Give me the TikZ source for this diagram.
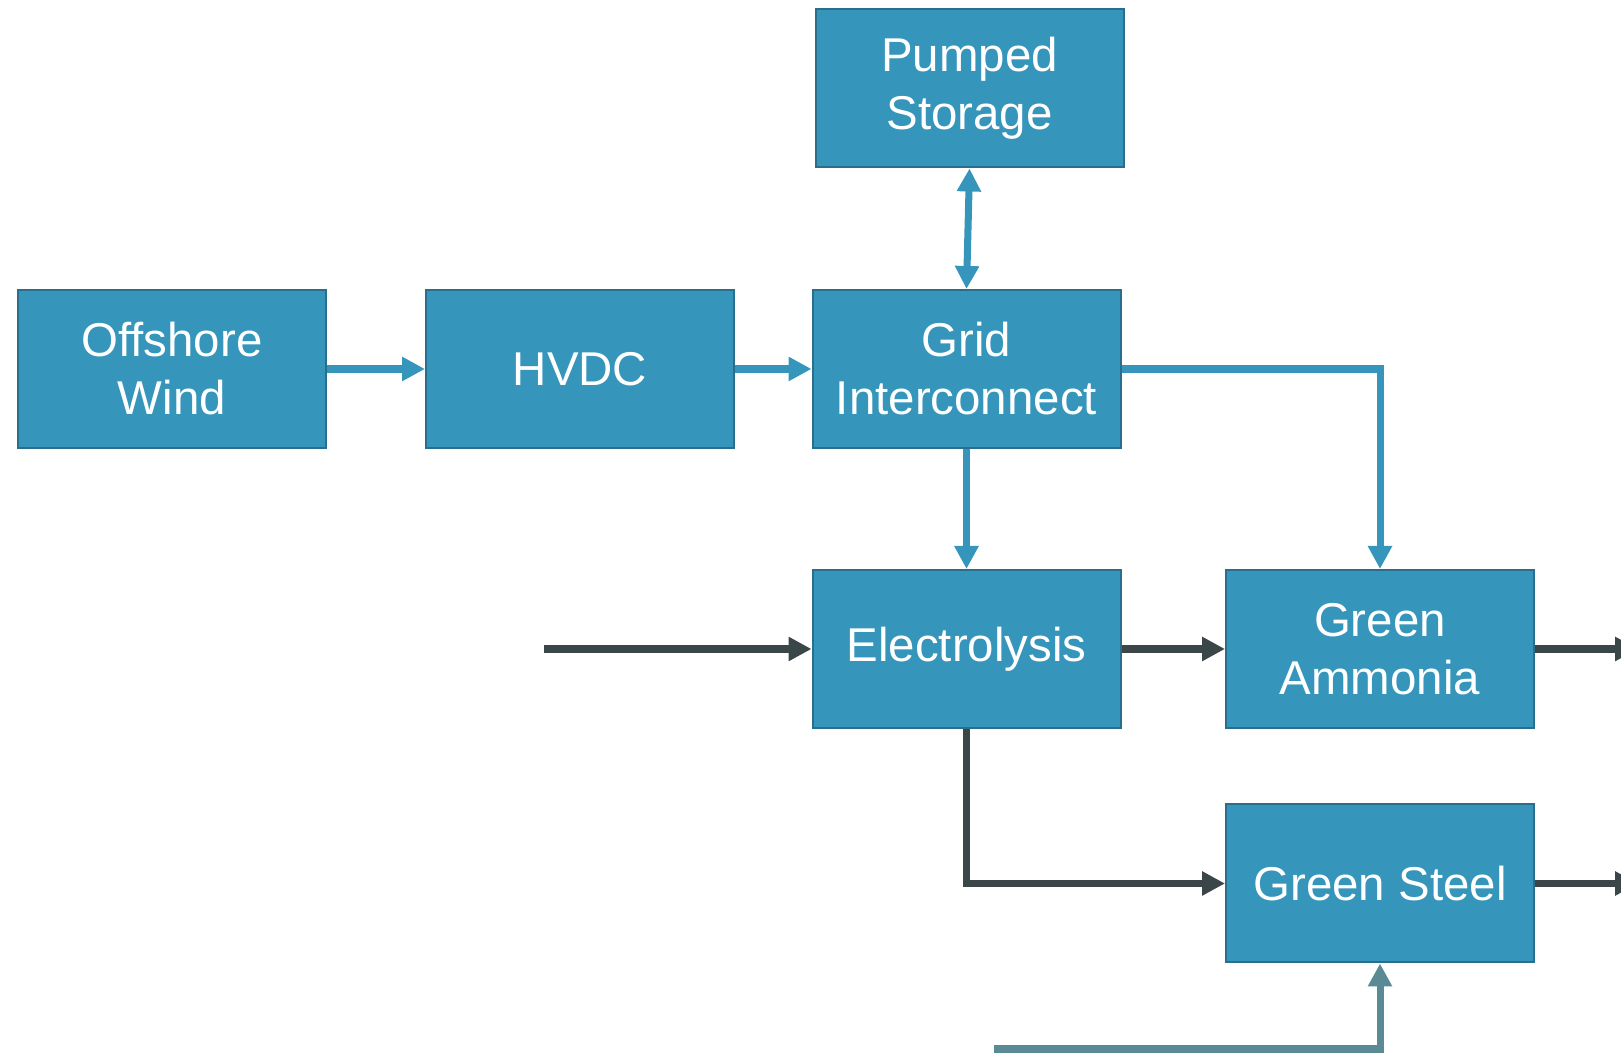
\documentclass[tikz,border=0pt]{standalone}
\usepackage{fontspec}
\setmainfont{Liberation Sans}
\usepackage{xcolor}
\usepackage{tikz}
\usetikzlibrary{arrows.meta}

\definecolor{boxfill}{HTML}{3595BB}
\definecolor{boxline}{HTML}{2A6E8E}
\definecolor{darkflow}{HTML}{3B4648}
\definecolor{tealflow}{HTML}{5A8A95}

\begin{document}
\begin{tikzpicture}[
    box/.style={draw=boxline, fill=boxfill, line width=0.04cm,
                minimum height=3.16cm, minimum width=6.16cm, align=center,
                text=white, font=\fontsize{27}{33}\selectfont},
    arrow/.style={-{Triangle[length=4.6mm, width=4.6mm]}, line width=4pt},
    twoway/.style={{Triangle[length=4.6mm, width=4.6mm]}-{Triangle[length=4.6mm, width=4.6mm]}, line width=4pt},
  ]
  \useasboundingbox (0,0) rectangle (32.42,21.08);

  \node[box] (wind)   at (3.44,13.70)  {Offshore\\Wind};
  \node[box] (hvdc)   at (11.60,13.70) {HVDC};
  \node[box] (grid)   at (19.33,13.70) {Grid\\Interconnect};
  \node[box] (pumped) at (19.39,19.31) {Pumped\\Storage};
  \node[box] (elec)   at (19.33,8.10)  {Electrolysis};
  \node[box] (nh3)    at (27.60,8.10)  {Green\\Ammonia};
  \node[box] (steel)  at (27.60,3.41)  {Green Steel};

  % loose ends
  \coordinate (waterin)  at (10.87,8.10);
  \coordinate (nh3out)   at (32.76,8.10);
  \coordinate (steelout) at (32.76,3.41);
  \coordinate (orein)    at (19.87,0.10);

  \draw[arrow, boxfill] (wind)  -- (hvdc);
  \draw[arrow, boxfill] (hvdc)  -- (grid);
  \draw[twoway, boxfill] (pumped.south) -- (grid.north);
  \draw[arrow, boxfill] (grid)  -- (elec);
  \draw[arrow, boxfill] (grid.east) -| (nh3.north);

  \draw[arrow, darkflow] (waterin) -- (elec.west);
  \draw[arrow, darkflow] (elec)  -- (nh3);
  \draw[arrow, darkflow] (elec.south) |- (steel.west);
  \draw[arrow, darkflow] (nh3.east)   -- (nh3out);
  \draw[arrow, darkflow] (steel.east) -- (steelout);
  \draw[arrow, tealflow] (orein) -| (steel.south);
\end{tikzpicture}
\end{document}
